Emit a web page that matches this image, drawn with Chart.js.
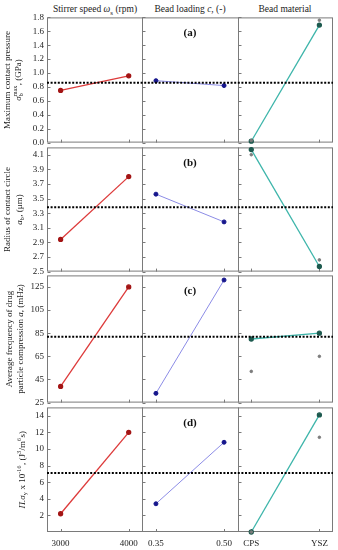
<!DOCTYPE html>
<html>
<head>
<meta charset="utf-8">
<script src="https://cdn.jsdelivr.net/npm/chart.js@4.4.0/dist/chart.umd.min.js"></script>
<style>
body { margin: 0; width: 338px; height: 550px; position: relative; overflow: hidden; background: #fff; font-family: 'Liberation Serif', 'DejaVu Serif', serif; }
canvas { position: absolute; left: 0; }
.hd { position: absolute; top: 4px; font-size: 9.5px; color: #222; transform: translateX(-50%); white-space: nowrap; }
.hd sub { font-size: 7px; }
</style>
</head>
<body>
<div class="hd" style="left:95px">Stirrer speed <i>ω</i><sub>s</sub> (rpm)</div>
<div class="hd" style="left:190px">Bead loading <i>c</i>, (-)</div>
<div class="hd" style="left:285px">Bead material</div>
<canvas id="rowA"></canvas>
<canvas id="rowB"></canvas>
<canvas id="rowC"></canvas>
<canvas id="rowD"></canvas>
<script>
// categories of the three factors
const stirrerSpeeds = ['3000', '4000'];
const beadLoadings = ['0.35', '0.50'];
const beadMaterials = ['CPS', 'YSZ'];

// (a) maximum contact pressure (GPa)
const pressureStirrer = [0.75, 0.96];
const pressureLoading = [0.89, 0.82];
const pressureMaterial = [0.02, 1.69];
const pressureMaterialRef = [0.03, 1.76];
const pressureMean = 0.86;
const pressureTicks = [0, 0.2, 0.4, 0.6, 0.8, 1.0, 1.2, 1.4, 1.6, 1.8];

// (b) radius of contact circle (um)
const radiusStirrer = [2.94, 3.80];
const radiusLoading = [3.56, 3.18];
const radiusMaterial = [4.17, 2.57];
const radiusMaterialRef = [4.10, 2.66];
const radiusMean = 3.38;
const radiusTicks = [2.5, 2.7, 2.9, 3.1, 3.3, 3.5, 3.7, 3.9, 4.1];

// (c) average frequency of drug particle compression (mHz)
const freqStirrer = [39, 125];
const freqLoading = [33, 131];
const freqMaterial = [80, 85];
const freqMaterialRef = [52, 65];
const freqMean = 82;
const freqTicks = [25, 45, 65, 85, 105, 125];

// (d) Pi sigma_y x 10^-16
const powerStirrer = [2.2, 12.0];
const powerLoading = [3.4, 10.8];
const powerMaterial = [0.0, 14.1];
const powerMaterialRef = [0.0, 11.4];
const powerMean = 7.1;
const powerTicks = [2, 4, 6, 8, 10, 12, 14];

const SERIF = "'Liberation Serif', 'DejaVu Serif', serif";
const colors = [
  { line: '#dd3a3a', point: '#a31515' },
  { line: '#8c8ce6', point: '#16168c' },
  { line: '#3db5aa', point: '#1d5a4f' }
];
const PANEL_W = 1.4;   // width of one sub-panel in x units
const INSET = 0.2;     // first category sits this far inside the sub-panel

function xPos(panel, idx) {
  return panel * PANEL_W + INSET + idx;
}

// draws text made of plain/italic/sub/sup pieces, centred on (0,0)
function drawRich(ctx, parts, size) {
  const small = size * 0.68;
  const widths = parts.map(p => {
    if (p.t !== undefined) {
      ctx.font = (p.i ? 'italic ' : '') + size + 'px ' + SERIF;
      return ctx.measureText(p.t).width;
    }
    ctx.font = small + 'px ' + SERIF;
    return Math.max(ctx.measureText(p.sub || '').width, ctx.measureText(p.sup || '').width) + 0.5;
  });
  let x = -widths.reduce((a, b) => a + b, 0) / 2;
  ctx.textAlign = 'left';
  ctx.textBaseline = 'middle';
  parts.forEach((p, k) => {
    if (p.t !== undefined) {
      ctx.font = (p.i ? 'italic ' : '') + size + 'px ' + SERIF;
      ctx.fillText(p.t, x, 0);
    } else {
      ctx.font = small + 'px ' + SERIF;
      if (p.sub) ctx.fillText(p.sub, x, size * 0.32);
      if (p.sup) ctx.fillText(p.sup, x, -size * 0.38);
    }
    x += widths[k];
  });
}

const rows = [
  {
    id: 'rowA', tag: '(a)', top: 17, h: 126, min: 0, max: 1.8,
    ticks: pressureTicks, fmt: v => v.toFixed(1),
    series: [pressureStirrer, pressureLoading, pressureMaterial], ref: pressureMaterialRef, mean: pressureMean,
    title: [
      [{ t: 'Maximum contact pressure' }],
      [{ t: 'σ', i: true }, { sub: 'b', sup: 'max' }, { t: ', (GPa)' }]
    ], titleX: [8, 19]
  },
  {
    id: 'rowB', tag: '(b)', top: 147, h: 125, min: 2.5, max: 4.2,
    ticks: radiusTicks, fmt: v => v.toFixed(1),
    series: [radiusStirrer, radiusLoading, radiusMaterial], ref: radiusMaterialRef, mean: radiusMean,
    title: [
      [{ t: 'Radius of contact circle' }],
      [{ t: 'a', i: true }, { sub: 'b' }, { t: ', (μm)' }]
    ], titleX: [8, 20]
  },
  {
    id: 'rowC', tag: '(c)', top: 275, h: 128, min: 25, max: 135,
    ticks: freqTicks, fmt: v => String(v),
    series: [freqStirrer, freqLoading, freqMaterial], ref: freqMaterialRef, mean: freqMean,
    title: [
      [{ t: 'Average frequency of drug' }],
      [{ t: 'particle compression ' }, { t: 'a', i: true }, { t: ', (mHz)' }]
    ], titleX: [10, 21]
  },
  {
    id: 'rowD', tag: '(d)', top: 407, h: 125, min: 0, max: 15,
    ticks: powerTicks, fmt: v => String(v),
    series: [powerStirrer, powerLoading, powerMaterial], ref: powerMaterialRef, mean: powerMean,
    title: [
      [{ t: 'Π.σ', i: true }, { sub: 'y' }, { t: ' x 10' }, { sup: '-16' }, { t: ', (J' }, { sup: '3' }, { t: '/m' }, { sup: '6' }, { t: 's)' }]
    ], titleX: [23], last: true
  }
];

const panelPlugin = {
  id: 'panels',
  beforeDatasetsDraw(chart) {
    const { ctx, chartArea: a, scales: { x, y } } = chart;
    const row = chart.options.plugins.panels.row;
    ctx.save();
    ctx.strokeStyle = '#7a7a7a';
    ctx.lineWidth = 1;
    ctx.strokeRect(a.left + 0.5, a.top + 0.5, a.right - a.left - 1, a.bottom - a.top - 1);
    for (let p = 0; p < 3; p++) {
      const px = Math.round(x.getPixelForValue(p * PANEL_W)) + 0.5;
      if (p > 0) {
        ctx.beginPath();
        ctx.moveTo(px, a.top);
        ctx.lineTo(px, a.bottom);
        ctx.stroke();
      }
      // inward ticks on the left edge of each sub-panel
      row.ticks.forEach(v => {
        const py = Math.round(y.getPixelForValue(v)) + 0.5;
        ctx.beginPath();
        ctx.moveTo(px, py);
        ctx.lineTo(px + 3, py);
        ctx.stroke();
      });
      // ticks at category positions on the bottom edge
      [0, 1].forEach(j => {
        const tx = Math.round(x.getPixelForValue(xPos(p, j))) + 0.5;
        ctx.beginPath();
        ctx.moveTo(tx, a.bottom);
        ctx.lineTo(tx, a.bottom - 3);
        ctx.stroke();
      });
    }
    ctx.restore();
  },
  afterDatasetsDraw(chart) {
    const { ctx, chartArea: a, scales: { y } } = chart;
    const row = chart.options.plugins.panels.row;
    ctx.save();
    const my = y.getPixelForValue(row.mean);
    ctx.strokeStyle = '#000';
    ctx.lineWidth = 2;
    ctx.setLineDash([2, 1.6]);
    ctx.beginPath();
    ctx.moveTo(a.left, my);
    ctx.lineTo(a.right, my);
    ctx.stroke();
    ctx.setLineDash([]);
    ctx.fillStyle = '#111';
    ctx.font = 'bold 11px ' + SERIF;
    ctx.textAlign = 'center';
    ctx.textBaseline = 'middle';
    ctx.fillText(row.tag, chart.scales.x.getPixelForValue(PANEL_W * 1.5), a.top + 16);
    // rotated y-axis title
    ctx.fillStyle = '#222';
    const cy = (a.top + a.bottom) / 2;
    row.title.forEach((parts, k) => {
      ctx.save();
      ctx.translate(row.titleX[k], cy);
      ctx.rotate(-Math.PI / 2);
      drawRich(ctx, parts, 9);
      ctx.restore();
    });
    ctx.restore();
  }
};

const xLabels = [...stirrerSpeeds, ...beadLoadings, ...beadMaterials];

rows.forEach(row => {
  const padTop = 8;
  const axisH = row.last ? 20 : 0;
  const padBottom = row.last ? 0 : 8;
  const canvas = document.getElementById(row.id);
  canvas.style.top = (row.top - padTop) + 'px';
  canvas.width = 338;
  canvas.height = padTop + row.h + padBottom + axisH;

  const datasets = [];
  row.series.forEach((vals, p) => {
    datasets.push({
      data: vals.map((v, j) => ({ x: xPos(p, j), y: v })),
      borderColor: colors[p].line,
      borderWidth: p === 1 ? 1 : 1.3,
      pointBackgroundColor: colors[p].point,
      pointBorderColor: colors[p].point,
      pointRadius: 2,
      showLine: true,
      clip: false
    });
  });
  datasets.push({
    data: row.ref.map((v, j) => ({ x: xPos(2, j), y: v })),
    showLine: false,
    pointBackgroundColor: '#7c7c7c',
    pointBorderColor: '#7c7c7c',
    pointRadius: 1.3,
    clip: false
  });
  // draw the reference dots underneath the main series
  datasets.unshift(datasets.pop());

  new Chart(canvas, {
    type: 'scatter',
    data: { datasets },
    options: {
      responsive: false,
      animation: false,
      events: [],
      layout: { autoPadding: false, padding: { left: 0, right: 5, top: padTop, bottom: padBottom } },
      plugins: { legend: { display: false }, tooltip: { enabled: false }, panels: { row } },
      scales: {
        x: {
          type: 'linear',
          min: 0,
          max: 3 * PANEL_W,
          display: !!row.last,
          grid: { display: false, drawTicks: false },
          border: { display: false },
          afterBuildTicks: s => {
            s.ticks = [0, 1, 2].flatMap(p => [0, 1].map(j => ({ value: xPos(p, j) })));
          },
          afterFit: s => { s.height = axisH; },
          ticks: {
            autoSkip: false,
            maxRotation: 0,
            padding: 6,
            color: '#222',
            font: { family: SERIF, size: 9 },
            callback: (v, i) => xLabels[i]
          }
        },
        y: {
          min: row.min,
          max: row.max,
          grid: { display: false, drawTicks: false },
          border: { display: false },
          afterBuildTicks: s => { s.ticks = row.ticks.map(v => ({ value: v })); },
          afterFit: s => { s.width = 47; },
          ticks: {
            autoSkip: false,
            padding: 3,
            color: '#222',
            font: { family: SERIF, size: 9 },
            callback: v => row.fmt(v)
          }
        }
      }
    },
    plugins: [panelPlugin]
  });
});
</script>
</body>
</html>
